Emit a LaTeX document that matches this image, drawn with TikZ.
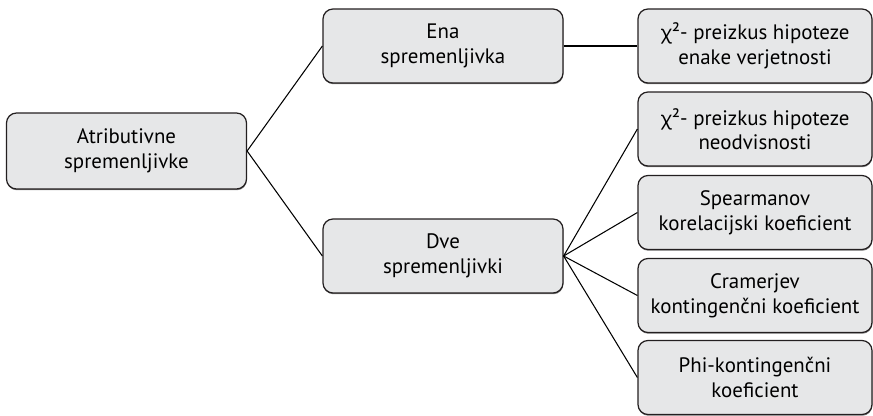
\documentclass[tikz,border=0pt]{standalone}
\usepackage{fontspec}
\setmainfont{PT Sans}
\newfontfamily\grk[Scale=0.92]{Noto Sans}
\usepackage{xcolor}
\usepackage{tikz}
\usetikzlibrary{positioning, shadows}
\definecolor{boxfill}{HTML}{E6E7E8}
\definecolor{boxline}{HTML}{231F20}

\begin{document}
\begin{tikzpicture}[font=\fontsize{11.9}{14}\selectfont,
  box/.style={draw=boxline, fill=boxfill, line width=0.7pt, rounded corners=0.2cm,
    align=center, minimum height=1.48cm, inner sep=2pt,
    drop shadow={shadow xshift=0.2pt, shadow yshift=-0.7pt, fill=black!70, opacity=0.7}},
  mid/.style={box, minimum width=4.8cm},
  leaf/.style={box, minimum width=4.68cm},
  conn/.style={line width=0.6pt, black}]
  \useasboundingbox (0,0) rectangle (17.46,8.30);

  % Koren
  \node[mid, minimum height=1.52cm] (atrib) at (2.53,5.28) {Atributivne\\ spremenljivke};

  % Srednji nivo
  \node[mid] (ena) at (8.86,7.38) {Ena\\ spremenljivka};
  \node[mid] (dve) at (8.86,3.18) {Dve\\ spremenljivki};

  % Listi
  \node[leaf] (hienak) at (15.10,7.38) {{\grk χ}²- preizkus hipoteze\\ enake verjetnosti};
  \node[leaf] (hineodv) at (15.10,5.72) {{\grk χ}²- preizkus hipoteze\\ neodvisnosti};
  \node[leaf] (spear) at (15.10,4.05) {Spearmanov\\ korelacijski koeficient};
  \node[leaf] (cramer) at (15.10,2.39) {Cramerjev\\ kontingenčni koeficient};
  \node[leaf] (phi) at (15.10,0.75) {Phi-kontingenčni\\ koeficient};

  % Povezave
  \draw[conn] (atrib.east) -- (ena.west);
  \draw[conn] (atrib.east) -- (dve.west);
  \draw[conn] (ena.east) -- (hienak.west);
  \foreach \n in {hineodv, spear, cramer, phi} \draw[conn] (dve.east) -- (\n.west);
\end{tikzpicture}
\end{document}
